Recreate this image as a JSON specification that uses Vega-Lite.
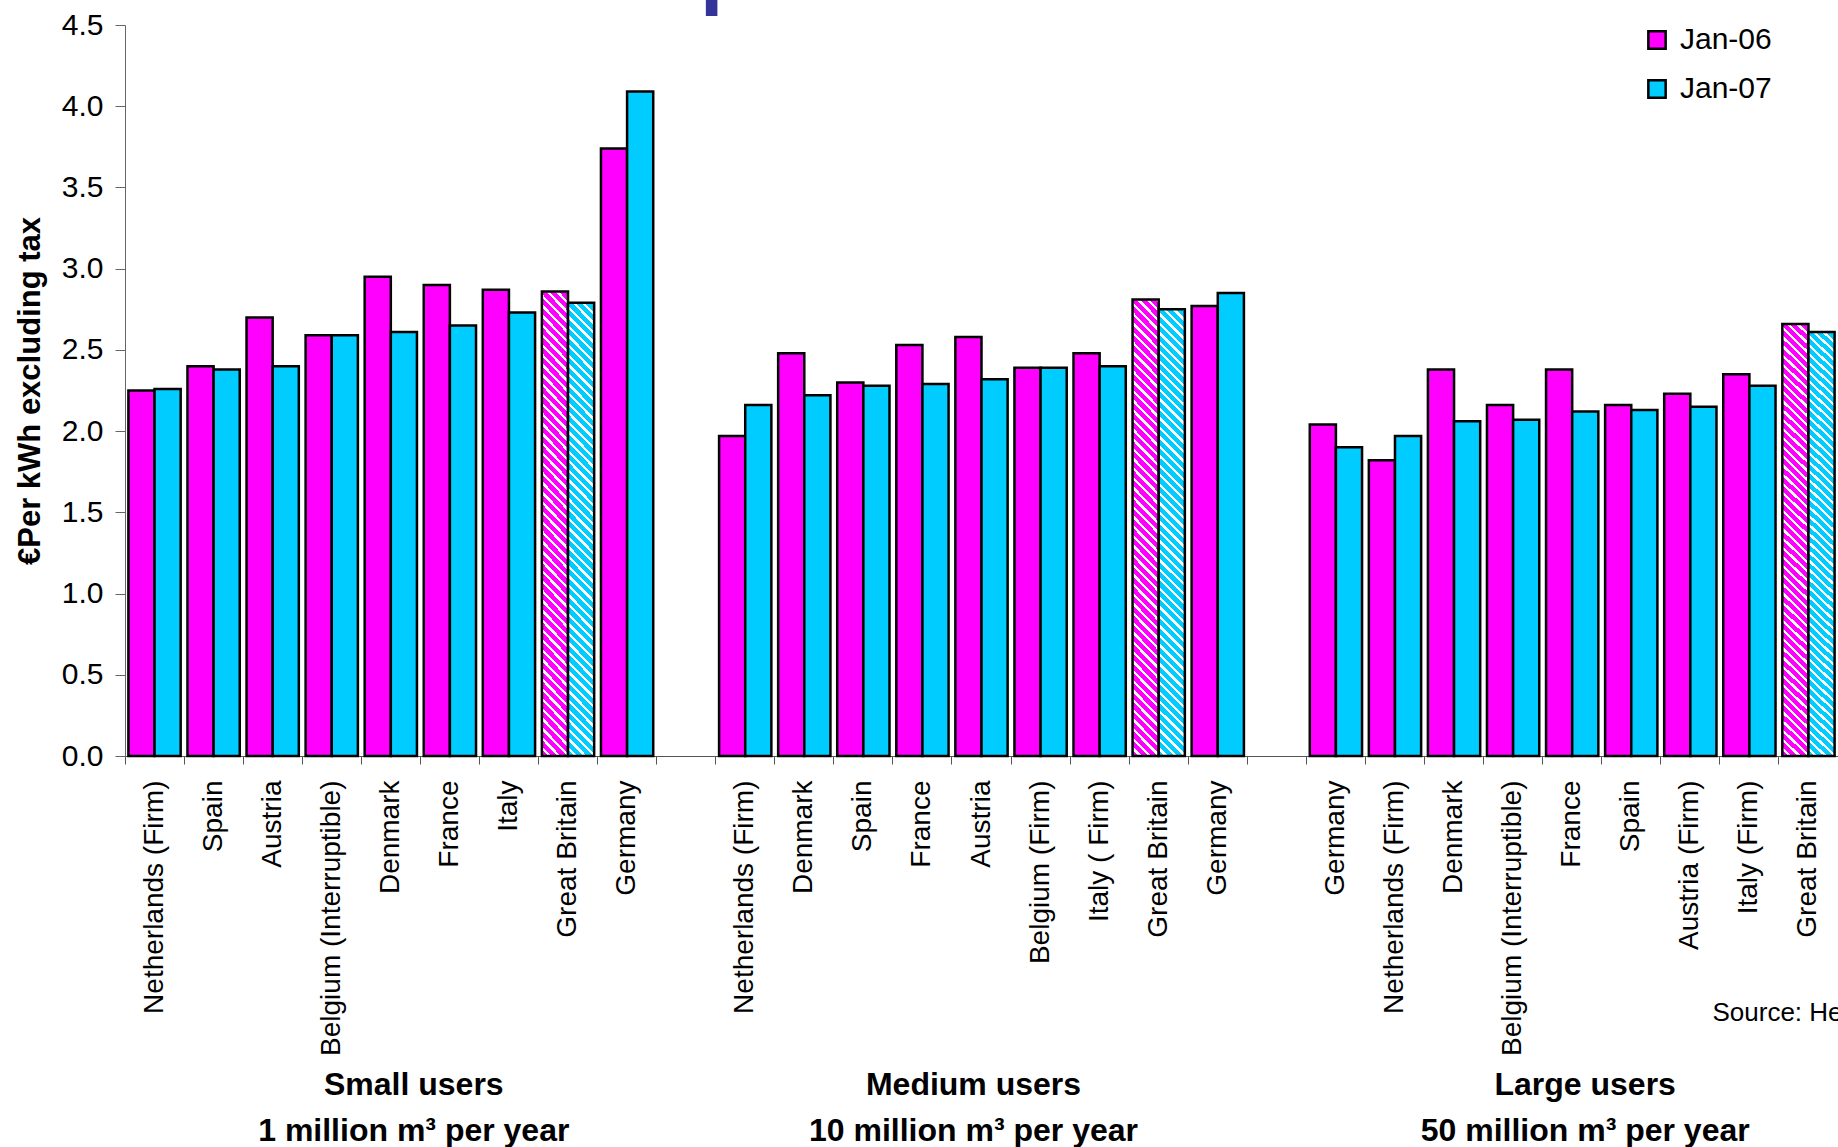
{
"$schema":"https://vega.github.io/schema/vega-lite/v6.json",
"width":1713,"height":731,"autosize":"none",
"padding":{"left":125,"top":25,"right":0,"bottom":391},
"config":{"view":{"stroke":null},"font":"Liberation Sans"},
"data":{"values":[
{"key":"S|Netherlands (Firm)","country":"Netherlands (Firm)","series":"Jan-06","value":2.25},
{"key":"S|Netherlands (Firm)","country":"Netherlands (Firm)","series":"Jan-07","value":2.26},
{"key":"S|Spain","country":"Spain","series":"Jan-06","value":2.40},
{"key":"S|Spain","country":"Spain","series":"Jan-07","value":2.38},
{"key":"S|Austria","country":"Austria","series":"Jan-06","value":2.70},
{"key":"S|Austria","country":"Austria","series":"Jan-07","value":2.40},
{"key":"S|Belgium (Interruptible)","country":"Belgium (Interruptible)","series":"Jan-06","value":2.59},
{"key":"S|Belgium (Interruptible)","country":"Belgium (Interruptible)","series":"Jan-07","value":2.59},
{"key":"S|Denmark","country":"Denmark","series":"Jan-06","value":2.95},
{"key":"S|Denmark","country":"Denmark","series":"Jan-07","value":2.61},
{"key":"S|France","country":"France","series":"Jan-06","value":2.90},
{"key":"S|France","country":"France","series":"Jan-07","value":2.65},
{"key":"S|Italy","country":"Italy","series":"Jan-06","value":2.87},
{"key":"S|Italy","country":"Italy","series":"Jan-07","value":2.73},
{"key":"S|Great Britain","country":"Great Britain","series":"Jan-06","value":2.86},
{"key":"S|Great Britain","country":"Great Britain","series":"Jan-07","value":2.79},
{"key":"S|Germany","country":"Germany","series":"Jan-06","value":3.74},
{"key":"S|Germany","country":"Germany","series":"Jan-07","value":4.09},
{"key":"M|Netherlands (Firm)","country":"Netherlands (Firm)","series":"Jan-06","value":1.97},
{"key":"M|Netherlands (Firm)","country":"Netherlands (Firm)","series":"Jan-07","value":2.16},
{"key":"M|Denmark","country":"Denmark","series":"Jan-06","value":2.48},
{"key":"M|Denmark","country":"Denmark","series":"Jan-07","value":2.22},
{"key":"M|Spain","country":"Spain","series":"Jan-06","value":2.30},
{"key":"M|Spain","country":"Spain","series":"Jan-07","value":2.28},
{"key":"M|France","country":"France","series":"Jan-06","value":2.53},
{"key":"M|France","country":"France","series":"Jan-07","value":2.29},
{"key":"M|Austria","country":"Austria","series":"Jan-06","value":2.58},
{"key":"M|Austria","country":"Austria","series":"Jan-07","value":2.32},
{"key":"M|Belgium (Firm)","country":"Belgium (Firm)","series":"Jan-06","value":2.39},
{"key":"M|Belgium (Firm)","country":"Belgium (Firm)","series":"Jan-07","value":2.39},
{"key":"M|Italy ( Firm)","country":"Italy ( Firm)","series":"Jan-06","value":2.48},
{"key":"M|Italy ( Firm)","country":"Italy ( Firm)","series":"Jan-07","value":2.40},
{"key":"M|Great Britain","country":"Great Britain","series":"Jan-06","value":2.81},
{"key":"M|Great Britain","country":"Great Britain","series":"Jan-07","value":2.75},
{"key":"M|Germany","country":"Germany","series":"Jan-06","value":2.77},
{"key":"M|Germany","country":"Germany","series":"Jan-07","value":2.85},
{"key":"L|Germany","country":"Germany","series":"Jan-06","value":2.04},
{"key":"L|Germany","country":"Germany","series":"Jan-07","value":1.90},
{"key":"L|Netherlands (Firm)","country":"Netherlands (Firm)","series":"Jan-06","value":1.82},
{"key":"L|Netherlands (Firm)","country":"Netherlands (Firm)","series":"Jan-07","value":1.97},
{"key":"L|Denmark","country":"Denmark","series":"Jan-06","value":2.38},
{"key":"L|Denmark","country":"Denmark","series":"Jan-07","value":2.06},
{"key":"L|Belgium (Interruptible)","country":"Belgium (Interruptible)","series":"Jan-06","value":2.16},
{"key":"L|Belgium (Interruptible)","country":"Belgium (Interruptible)","series":"Jan-07","value":2.07},
{"key":"L|France","country":"France","series":"Jan-06","value":2.38},
{"key":"L|France","country":"France","series":"Jan-07","value":2.12},
{"key":"L|Spain","country":"Spain","series":"Jan-06","value":2.16},
{"key":"L|Spain","country":"Spain","series":"Jan-07","value":2.13},
{"key":"L|Austria (Firm)","country":"Austria (Firm)","series":"Jan-06","value":2.23},
{"key":"L|Austria (Firm)","country":"Austria (Firm)","series":"Jan-07","value":2.15},
{"key":"L|Italy (Firm)","country":"Italy (Firm)","series":"Jan-06","value":2.35},
{"key":"L|Italy (Firm)","country":"Italy (Firm)","series":"Jan-07","value":2.28},
{"key":"L|Great Britain","country":"Great Britain","series":"Jan-06","value":2.66},
{"key":"L|Great Britain","country":"Great Britain","series":"Jan-07","value":2.61}
]},
"layer":[
{"mark":{"type":"bar","stroke":"black","strokeWidth":2.5},
 "encoding":{
  "x":{"field":"key","type":"nominal",
   "scale":{"domain":["S|Netherlands (Firm)","S|Spain","S|Austria","S|Belgium (Interruptible)","S|Denmark","S|France","S|Italy","S|Great Britain","S|Germany","gap1","M|Netherlands (Firm)","M|Denmark","M|Spain","M|France","M|Austria","M|Belgium (Firm)","M|Italy ( Firm)","M|Great Britain","M|Germany","gap2","L|Germany","L|Netherlands (Firm)","L|Denmark","L|Belgium (Interruptible)","L|France","L|Spain","L|Austria (Firm)","L|Italy (Firm)","L|Great Britain"],"paddingInner":0,"paddingOuter":0},
   "axis":{"title":null,"labelExpr":"indexof(datum.value,'|') < 0 ? '' : split(datum.value,'|')[1]","labelAngle":-90,"labelFontSize":28,"labelColor":"black","labelPadding":16,"labelLimit":500,"bandPosition":0,"tickSize":8,"tickColor":"#555","domainColor":"#555"}},
  "xOffset":{"field":"series","type":"nominal","scale":{"paddingInner":0,"paddingOuter":0.13}},
  "y":{"field":"value","type":"quantitative","scale":{"domain":[0,4.5],"nice":false,"zero":true},
   "axis":{"title":"€Per kWh excluding tax","values":[0,0.5,1,1.5,2,2.5,3,3.5,4,4.5],"format":".1f","grid":false,"labelFontSize":30,"labelColor":"black","labelPadding":12,"tickSize":10,"tickColor":"#666","domainColor":"#666","titleFontSize":31,"titleFontWeight":"bold","titleColor":"black","titlePadding":15}},
  "fill":{
   "condition":[
    {"test":"datum.country === 'Great Britain' && datum.series === 'Jan-06'","value":{"gradient":"linear","x1":0,"y1":1,"x2":0.0616,"y2":-0.0548,"stops":[
{"offset":0,"color":"#f0f"},{"offset":0.013,"color":"#f0f"},{"offset":0.013,"color":"#fff"},{"offset":0.02,"color":"#fff"},
{"offset":0.02,"color":"#f0f"},{"offset":0.033,"color":"#f0f"},{"offset":0.033,"color":"#fff"},{"offset":0.04,"color":"#fff"},
{"offset":0.04,"color":"#f0f"},{"offset":0.053,"color":"#f0f"},{"offset":0.053,"color":"#fff"},{"offset":0.06,"color":"#fff"},
{"offset":0.06,"color":"#f0f"},{"offset":0.073,"color":"#f0f"},{"offset":0.073,"color":"#fff"},{"offset":0.08,"color":"#fff"},
{"offset":0.08,"color":"#f0f"},{"offset":0.093,"color":"#f0f"},{"offset":0.093,"color":"#fff"},{"offset":0.1,"color":"#fff"},
{"offset":0.1,"color":"#f0f"},{"offset":0.113,"color":"#f0f"},{"offset":0.113,"color":"#fff"},{"offset":0.12,"color":"#fff"},
{"offset":0.12,"color":"#f0f"},{"offset":0.133,"color":"#f0f"},{"offset":0.133,"color":"#fff"},{"offset":0.14,"color":"#fff"},
{"offset":0.14,"color":"#f0f"},{"offset":0.153,"color":"#f0f"},{"offset":0.153,"color":"#fff"},{"offset":0.16,"color":"#fff"},
{"offset":0.16,"color":"#f0f"},{"offset":0.173,"color":"#f0f"},{"offset":0.173,"color":"#fff"},{"offset":0.18,"color":"#fff"},
{"offset":0.18,"color":"#f0f"},{"offset":0.193,"color":"#f0f"},{"offset":0.193,"color":"#fff"},{"offset":0.2,"color":"#fff"},
{"offset":0.2,"color":"#f0f"},{"offset":0.213,"color":"#f0f"},{"offset":0.213,"color":"#fff"},{"offset":0.22,"color":"#fff"},
{"offset":0.22,"color":"#f0f"},{"offset":0.233,"color":"#f0f"},{"offset":0.233,"color":"#fff"},{"offset":0.24,"color":"#fff"},
{"offset":0.24,"color":"#f0f"},{"offset":0.253,"color":"#f0f"},{"offset":0.253,"color":"#fff"},{"offset":0.26,"color":"#fff"},
{"offset":0.26,"color":"#f0f"},{"offset":0.273,"color":"#f0f"},{"offset":0.273,"color":"#fff"},{"offset":0.28,"color":"#fff"},
{"offset":0.28,"color":"#f0f"},{"offset":0.293,"color":"#f0f"},{"offset":0.293,"color":"#fff"},{"offset":0.3,"color":"#fff"},
{"offset":0.3,"color":"#f0f"},{"offset":0.313,"color":"#f0f"},{"offset":0.313,"color":"#fff"},{"offset":0.32,"color":"#fff"},
{"offset":0.32,"color":"#f0f"},{"offset":0.333,"color":"#f0f"},{"offset":0.333,"color":"#fff"},{"offset":0.34,"color":"#fff"},
{"offset":0.34,"color":"#f0f"},{"offset":0.353,"color":"#f0f"},{"offset":0.353,"color":"#fff"},{"offset":0.36,"color":"#fff"},
{"offset":0.36,"color":"#f0f"},{"offset":0.373,"color":"#f0f"},{"offset":0.373,"color":"#fff"},{"offset":0.38,"color":"#fff"},
{"offset":0.38,"color":"#f0f"},{"offset":0.393,"color":"#f0f"},{"offset":0.393,"color":"#fff"},{"offset":0.4,"color":"#fff"},
{"offset":0.4,"color":"#f0f"},{"offset":0.413,"color":"#f0f"},{"offset":0.413,"color":"#fff"},{"offset":0.42,"color":"#fff"},
{"offset":0.42,"color":"#f0f"},{"offset":0.433,"color":"#f0f"},{"offset":0.433,"color":"#fff"},{"offset":0.44,"color":"#fff"},
{"offset":0.44,"color":"#f0f"},{"offset":0.453,"color":"#f0f"},{"offset":0.453,"color":"#fff"},{"offset":0.46,"color":"#fff"},
{"offset":0.46,"color":"#f0f"},{"offset":0.473,"color":"#f0f"},{"offset":0.473,"color":"#fff"},{"offset":0.48,"color":"#fff"},
{"offset":0.48,"color":"#f0f"},{"offset":0.493,"color":"#f0f"},{"offset":0.493,"color":"#fff"},{"offset":0.5,"color":"#fff"},
{"offset":0.5,"color":"#f0f"},{"offset":0.513,"color":"#f0f"},{"offset":0.513,"color":"#fff"},{"offset":0.52,"color":"#fff"},
{"offset":0.52,"color":"#f0f"},{"offset":0.533,"color":"#f0f"},{"offset":0.533,"color":"#fff"},{"offset":0.54,"color":"#fff"},
{"offset":0.54,"color":"#f0f"},{"offset":0.553,"color":"#f0f"},{"offset":0.553,"color":"#fff"},{"offset":0.56,"color":"#fff"},
{"offset":0.56,"color":"#f0f"},{"offset":0.573,"color":"#f0f"},{"offset":0.573,"color":"#fff"},{"offset":0.58,"color":"#fff"},
{"offset":0.58,"color":"#f0f"},{"offset":0.593,"color":"#f0f"},{"offset":0.593,"color":"#fff"},{"offset":0.6,"color":"#fff"},
{"offset":0.6,"color":"#f0f"},{"offset":0.613,"color":"#f0f"},{"offset":0.613,"color":"#fff"},{"offset":0.62,"color":"#fff"},
{"offset":0.62,"color":"#f0f"},{"offset":0.633,"color":"#f0f"},{"offset":0.633,"color":"#fff"},{"offset":0.64,"color":"#fff"},
{"offset":0.64,"color":"#f0f"},{"offset":0.653,"color":"#f0f"},{"offset":0.653,"color":"#fff"},{"offset":0.66,"color":"#fff"},
{"offset":0.66,"color":"#f0f"},{"offset":0.673,"color":"#f0f"},{"offset":0.673,"color":"#fff"},{"offset":0.68,"color":"#fff"},
{"offset":0.68,"color":"#f0f"},{"offset":0.693,"color":"#f0f"},{"offset":0.693,"color":"#fff"},{"offset":0.7,"color":"#fff"},
{"offset":0.7,"color":"#f0f"},{"offset":0.713,"color":"#f0f"},{"offset":0.713,"color":"#fff"},{"offset":0.72,"color":"#fff"},
{"offset":0.72,"color":"#f0f"},{"offset":0.733,"color":"#f0f"},{"offset":0.733,"color":"#fff"},{"offset":0.74,"color":"#fff"},
{"offset":0.74,"color":"#f0f"},{"offset":0.753,"color":"#f0f"},{"offset":0.753,"color":"#fff"},{"offset":0.76,"color":"#fff"},
{"offset":0.76,"color":"#f0f"},{"offset":0.773,"color":"#f0f"},{"offset":0.773,"color":"#fff"},{"offset":0.78,"color":"#fff"},
{"offset":0.78,"color":"#f0f"},{"offset":0.793,"color":"#f0f"},{"offset":0.793,"color":"#fff"},{"offset":0.8,"color":"#fff"},
{"offset":0.8,"color":"#f0f"},{"offset":0.813,"color":"#f0f"},{"offset":0.813,"color":"#fff"},{"offset":0.82,"color":"#fff"},
{"offset":0.82,"color":"#f0f"},{"offset":0.833,"color":"#f0f"},{"offset":0.833,"color":"#fff"},{"offset":0.84,"color":"#fff"},
{"offset":0.84,"color":"#f0f"},{"offset":0.853,"color":"#f0f"},{"offset":0.853,"color":"#fff"},{"offset":0.86,"color":"#fff"},
{"offset":0.86,"color":"#f0f"},{"offset":0.873,"color":"#f0f"},{"offset":0.873,"color":"#fff"},{"offset":0.88,"color":"#fff"},
{"offset":0.88,"color":"#f0f"},{"offset":0.893,"color":"#f0f"},{"offset":0.893,"color":"#fff"},{"offset":0.9,"color":"#fff"},
{"offset":0.9,"color":"#f0f"},{"offset":0.913,"color":"#f0f"},{"offset":0.913,"color":"#fff"},{"offset":0.92,"color":"#fff"},
{"offset":0.92,"color":"#f0f"},{"offset":0.933,"color":"#f0f"},{"offset":0.933,"color":"#fff"},{"offset":0.94,"color":"#fff"},
{"offset":0.94,"color":"#f0f"},{"offset":0.953,"color":"#f0f"},{"offset":0.953,"color":"#fff"},{"offset":0.96,"color":"#fff"},
{"offset":0.96,"color":"#f0f"},{"offset":0.973,"color":"#f0f"},{"offset":0.973,"color":"#fff"},{"offset":0.98,"color":"#fff"},
{"offset":0.98,"color":"#f0f"},{"offset":0.993,"color":"#f0f"},{"offset":0.993,"color":"#fff"},{"offset":1,"color":"#fff"}
]}},
    {"test":"datum.country === 'Great Britain' && datum.series === 'Jan-07'","value":{"gradient":"linear","x1":0,"y1":1,"x2":0.0616,"y2":-0.0548,"stops":[
{"offset":0,"color":"#0cf"},{"offset":0.013,"color":"#0cf"},{"offset":0.013,"color":"#fff"},{"offset":0.02,"color":"#fff"},
{"offset":0.02,"color":"#0cf"},{"offset":0.033,"color":"#0cf"},{"offset":0.033,"color":"#fff"},{"offset":0.04,"color":"#fff"},
{"offset":0.04,"color":"#0cf"},{"offset":0.053,"color":"#0cf"},{"offset":0.053,"color":"#fff"},{"offset":0.06,"color":"#fff"},
{"offset":0.06,"color":"#0cf"},{"offset":0.073,"color":"#0cf"},{"offset":0.073,"color":"#fff"},{"offset":0.08,"color":"#fff"},
{"offset":0.08,"color":"#0cf"},{"offset":0.093,"color":"#0cf"},{"offset":0.093,"color":"#fff"},{"offset":0.1,"color":"#fff"},
{"offset":0.1,"color":"#0cf"},{"offset":0.113,"color":"#0cf"},{"offset":0.113,"color":"#fff"},{"offset":0.12,"color":"#fff"},
{"offset":0.12,"color":"#0cf"},{"offset":0.133,"color":"#0cf"},{"offset":0.133,"color":"#fff"},{"offset":0.14,"color":"#fff"},
{"offset":0.14,"color":"#0cf"},{"offset":0.153,"color":"#0cf"},{"offset":0.153,"color":"#fff"},{"offset":0.16,"color":"#fff"},
{"offset":0.16,"color":"#0cf"},{"offset":0.173,"color":"#0cf"},{"offset":0.173,"color":"#fff"},{"offset":0.18,"color":"#fff"},
{"offset":0.18,"color":"#0cf"},{"offset":0.193,"color":"#0cf"},{"offset":0.193,"color":"#fff"},{"offset":0.2,"color":"#fff"},
{"offset":0.2,"color":"#0cf"},{"offset":0.213,"color":"#0cf"},{"offset":0.213,"color":"#fff"},{"offset":0.22,"color":"#fff"},
{"offset":0.22,"color":"#0cf"},{"offset":0.233,"color":"#0cf"},{"offset":0.233,"color":"#fff"},{"offset":0.24,"color":"#fff"},
{"offset":0.24,"color":"#0cf"},{"offset":0.253,"color":"#0cf"},{"offset":0.253,"color":"#fff"},{"offset":0.26,"color":"#fff"},
{"offset":0.26,"color":"#0cf"},{"offset":0.273,"color":"#0cf"},{"offset":0.273,"color":"#fff"},{"offset":0.28,"color":"#fff"},
{"offset":0.28,"color":"#0cf"},{"offset":0.293,"color":"#0cf"},{"offset":0.293,"color":"#fff"},{"offset":0.3,"color":"#fff"},
{"offset":0.3,"color":"#0cf"},{"offset":0.313,"color":"#0cf"},{"offset":0.313,"color":"#fff"},{"offset":0.32,"color":"#fff"},
{"offset":0.32,"color":"#0cf"},{"offset":0.333,"color":"#0cf"},{"offset":0.333,"color":"#fff"},{"offset":0.34,"color":"#fff"},
{"offset":0.34,"color":"#0cf"},{"offset":0.353,"color":"#0cf"},{"offset":0.353,"color":"#fff"},{"offset":0.36,"color":"#fff"},
{"offset":0.36,"color":"#0cf"},{"offset":0.373,"color":"#0cf"},{"offset":0.373,"color":"#fff"},{"offset":0.38,"color":"#fff"},
{"offset":0.38,"color":"#0cf"},{"offset":0.393,"color":"#0cf"},{"offset":0.393,"color":"#fff"},{"offset":0.4,"color":"#fff"},
{"offset":0.4,"color":"#0cf"},{"offset":0.413,"color":"#0cf"},{"offset":0.413,"color":"#fff"},{"offset":0.42,"color":"#fff"},
{"offset":0.42,"color":"#0cf"},{"offset":0.433,"color":"#0cf"},{"offset":0.433,"color":"#fff"},{"offset":0.44,"color":"#fff"},
{"offset":0.44,"color":"#0cf"},{"offset":0.453,"color":"#0cf"},{"offset":0.453,"color":"#fff"},{"offset":0.46,"color":"#fff"},
{"offset":0.46,"color":"#0cf"},{"offset":0.473,"color":"#0cf"},{"offset":0.473,"color":"#fff"},{"offset":0.48,"color":"#fff"},
{"offset":0.48,"color":"#0cf"},{"offset":0.493,"color":"#0cf"},{"offset":0.493,"color":"#fff"},{"offset":0.5,"color":"#fff"},
{"offset":0.5,"color":"#0cf"},{"offset":0.513,"color":"#0cf"},{"offset":0.513,"color":"#fff"},{"offset":0.52,"color":"#fff"},
{"offset":0.52,"color":"#0cf"},{"offset":0.533,"color":"#0cf"},{"offset":0.533,"color":"#fff"},{"offset":0.54,"color":"#fff"},
{"offset":0.54,"color":"#0cf"},{"offset":0.553,"color":"#0cf"},{"offset":0.553,"color":"#fff"},{"offset":0.56,"color":"#fff"},
{"offset":0.56,"color":"#0cf"},{"offset":0.573,"color":"#0cf"},{"offset":0.573,"color":"#fff"},{"offset":0.58,"color":"#fff"},
{"offset":0.58,"color":"#0cf"},{"offset":0.593,"color":"#0cf"},{"offset":0.593,"color":"#fff"},{"offset":0.6,"color":"#fff"},
{"offset":0.6,"color":"#0cf"},{"offset":0.613,"color":"#0cf"},{"offset":0.613,"color":"#fff"},{"offset":0.62,"color":"#fff"},
{"offset":0.62,"color":"#0cf"},{"offset":0.633,"color":"#0cf"},{"offset":0.633,"color":"#fff"},{"offset":0.64,"color":"#fff"},
{"offset":0.64,"color":"#0cf"},{"offset":0.653,"color":"#0cf"},{"offset":0.653,"color":"#fff"},{"offset":0.66,"color":"#fff"},
{"offset":0.66,"color":"#0cf"},{"offset":0.673,"color":"#0cf"},{"offset":0.673,"color":"#fff"},{"offset":0.68,"color":"#fff"},
{"offset":0.68,"color":"#0cf"},{"offset":0.693,"color":"#0cf"},{"offset":0.693,"color":"#fff"},{"offset":0.7,"color":"#fff"},
{"offset":0.7,"color":"#0cf"},{"offset":0.713,"color":"#0cf"},{"offset":0.713,"color":"#fff"},{"offset":0.72,"color":"#fff"},
{"offset":0.72,"color":"#0cf"},{"offset":0.733,"color":"#0cf"},{"offset":0.733,"color":"#fff"},{"offset":0.74,"color":"#fff"},
{"offset":0.74,"color":"#0cf"},{"offset":0.753,"color":"#0cf"},{"offset":0.753,"color":"#fff"},{"offset":0.76,"color":"#fff"},
{"offset":0.76,"color":"#0cf"},{"offset":0.773,"color":"#0cf"},{"offset":0.773,"color":"#fff"},{"offset":0.78,"color":"#fff"},
{"offset":0.78,"color":"#0cf"},{"offset":0.793,"color":"#0cf"},{"offset":0.793,"color":"#fff"},{"offset":0.8,"color":"#fff"},
{"offset":0.8,"color":"#0cf"},{"offset":0.813,"color":"#0cf"},{"offset":0.813,"color":"#fff"},{"offset":0.82,"color":"#fff"},
{"offset":0.82,"color":"#0cf"},{"offset":0.833,"color":"#0cf"},{"offset":0.833,"color":"#fff"},{"offset":0.84,"color":"#fff"},
{"offset":0.84,"color":"#0cf"},{"offset":0.853,"color":"#0cf"},{"offset":0.853,"color":"#fff"},{"offset":0.86,"color":"#fff"},
{"offset":0.86,"color":"#0cf"},{"offset":0.873,"color":"#0cf"},{"offset":0.873,"color":"#fff"},{"offset":0.88,"color":"#fff"},
{"offset":0.88,"color":"#0cf"},{"offset":0.893,"color":"#0cf"},{"offset":0.893,"color":"#fff"},{"offset":0.9,"color":"#fff"},
{"offset":0.9,"color":"#0cf"},{"offset":0.913,"color":"#0cf"},{"offset":0.913,"color":"#fff"},{"offset":0.92,"color":"#fff"},
{"offset":0.92,"color":"#0cf"},{"offset":0.933,"color":"#0cf"},{"offset":0.933,"color":"#fff"},{"offset":0.94,"color":"#fff"},
{"offset":0.94,"color":"#0cf"},{"offset":0.953,"color":"#0cf"},{"offset":0.953,"color":"#fff"},{"offset":0.96,"color":"#fff"},
{"offset":0.96,"color":"#0cf"},{"offset":0.973,"color":"#0cf"},{"offset":0.973,"color":"#fff"},{"offset":0.98,"color":"#fff"},
{"offset":0.98,"color":"#0cf"},{"offset":0.993,"color":"#0cf"},{"offset":0.993,"color":"#fff"},{"offset":1,"color":"#fff"}
]}}
   ],
   "field":"series","type":"nominal",
   "scale":{"domain":["Jan-06","Jan-07"],"range":["#FF00FF","#00CCFF"]},
   "legend":{"title":null,"orient":"none","legendX":1517,"legendY":0,"padding":0,"symbolType":"square","symbolSize":300,"symbolStrokeColor":"black","symbolStrokeWidth":2.5,"labelFontSize":30,"labelColor":"black","labelOffset":8,"rowPadding":19}}
 }},
{"data":{"values":[{"group":"Small users"}]},
 "mark":{"type":"text","text":["Small users","1 million m³ per year"],"font":"Liberation Sans","fontWeight":"bold","fontSize":32,"lineHeight":46,"align":"center","baseline":"alphabetic","dy":339,"dx":23,"color":"black"},
 "encoding":{"x":{"datum":"S|Denmark","type":"nominal"},"y":{"datum":0,"type":"quantitative"}}},
{"data":{"values":[{"group":"Medium users"}]},
 "mark":{"type":"text","text":["Medium users","10 million m³ per year"],"font":"Liberation Sans","fontWeight":"bold","fontSize":32,"lineHeight":46,"align":"center","baseline":"alphabetic","dy":339,"dx":-8,"color":"black"},
 "encoding":{"x":{"datum":"M|Austria","type":"nominal"},"y":{"datum":0,"type":"quantitative"}}},
{"data":{"values":[{"group":"Large users"}]},
 "mark":{"type":"text","text":["Large users","50 million m³ per year"],"font":"Liberation Sans","fontWeight":"bold","fontSize":32,"lineHeight":46,"align":"center","baseline":"alphabetic","dy":339,"dx":13,"color":"black"},
 "encoding":{"x":{"datum":"L|France","type":"nominal"},"y":{"datum":0,"type":"quantitative"}}},
{"data":{"values":[{"note":"source"}]},
 "mark":{"type":"text","text":"Source: Heren","font":"Liberation Sans","fontSize":26,"align":"left","baseline":"alphabetic","dy":265,"dx":-96,"color":"black"},
 "encoding":{"x":{"datum":"L|Great Britain","type":"nominal"},"y":{"datum":0,"type":"quantitative"}}},
{"data":{"values":[{"note":"title"}]},
 "mark":{"type":"text","text":"p","font":"Liberation Sans","fontWeight":"bold","fontSize":84,"align":"left","baseline":"alphabetic","dy":-26,"dx":73,"color":"#333399"},
 "encoding":{"x":{"datum":"S|Germany","type":"nominal"},"y":{"datum":4.5,"type":"quantitative"}}}
]
}
